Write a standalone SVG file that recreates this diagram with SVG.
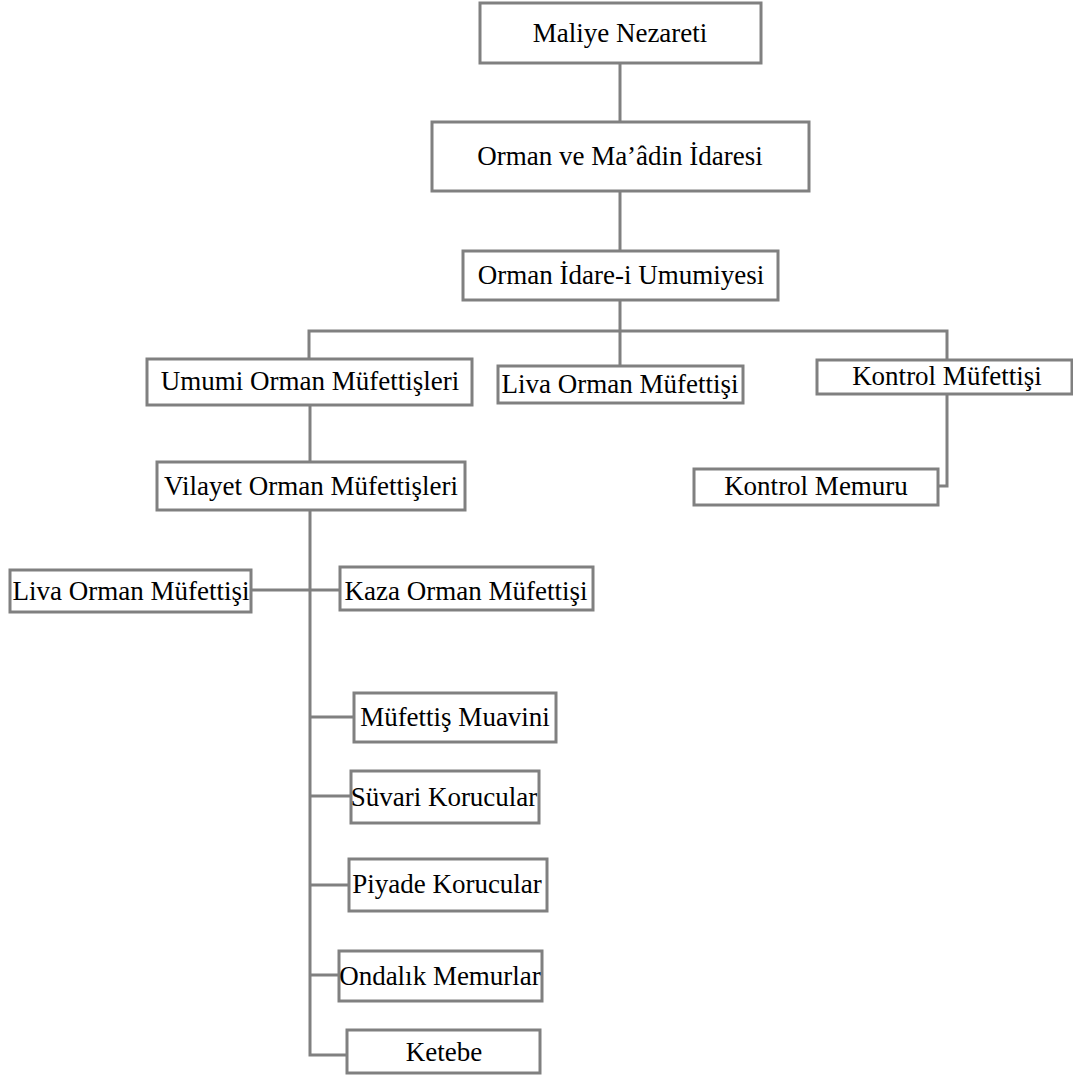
<svg xmlns="http://www.w3.org/2000/svg" width="1073" height="1079" viewBox="0 0 1073 1079">
<style>
.box{fill:#fff;stroke:#808080;stroke-width:3}
.lbl{font-family:"Liberation Serif","Times New Roman",serif;font-size:27px;fill:#000;text-anchor:middle}
.conn{fill:none;stroke:#808080;stroke-width:3}
</style>
<rect width="1073" height="1079" fill="#fff"/>
<g id="connectors">
<path class="conn" d="M620 63V122"/>
<path class="conn" d="M620 191V251"/>
<path class="conn" d="M620 300V331M309 359V331H947V360M620 331V366"/>
<path class="conn" d="M947 394V486H938"/>
<path class="conn" d="M310 405V462"/>
<path class="conn" d="M310 510V1055H347"/>
<path class="conn" d="M251 590H340"/>
<path class="conn" d="M310 717H354M310 796H351M310 885H349M310 975H339"/>
</g>
<g id="n1"><rect class="box" x="480" y="3" width="281" height="60"/><text class="lbl" x="620" y="42">Maliye Nezareti</text></g>
<g id="n2"><rect class="box" x="432" y="122" width="377" height="69"/><text class="lbl" x="620" y="165">Orman ve Ma’âdin İdaresi</text></g>
<g id="n3"><rect class="box" x="463" y="251" width="315" height="49"/><text class="lbl" x="621" y="284">Orman İdare-i Umumiyesi</text></g>
<g id="n4"><rect class="box" x="147" y="359" width="325" height="46"/><text class="lbl" x="310" y="390">Umumi Orman Müfettişleri</text></g>
<g id="n5"><rect class="box" x="498" y="366" width="245" height="37"/><text class="lbl" x="620" y="393">Liva Orman Müfettişi</text></g>
<g id="n6"><rect class="box" x="817" y="360" width="255" height="34"/><text class="lbl" x="947" y="385">Kontrol Müfettişi</text></g>
<g id="n7"><rect class="box" x="694" y="469" width="244" height="36"/><text class="lbl" x="816" y="495">Kontrol Memuru</text></g>
<g id="n8"><rect class="box" x="157" y="462" width="308" height="48"/><text class="lbl" x="311" y="495">Vilayet Orman Müfettişleri</text></g>
<g id="n9"><rect class="box" x="10" y="570" width="241" height="42"/><text class="lbl" x="131" y="600">Liva Orman Müfettişi</text></g>
<g id="n10"><rect class="box" x="340" y="567" width="253" height="43"/><text class="lbl" x="466" y="600">Kaza Orman Müfettişi</text></g>
<g id="n11"><rect class="box" x="354" y="693" width="202" height="49"/><text class="lbl" x="455" y="726">Müfettiş Muavini</text></g>
<g id="n12"><rect class="box" x="351" y="771" width="188" height="52"/><text class="lbl" x="444" y="806">Süvari Korucular</text></g>
<g id="n13"><rect class="box" x="349" y="859" width="198" height="52"/><text class="lbl" x="447" y="893">Piyade Korucular</text></g>
<g id="n14"><rect class="box" x="339" y="951" width="203" height="50"/><text class="lbl" x="440" y="985">Ondalık Memurlar</text></g>
<g id="n15"><rect class="box" x="347" y="1030" width="193" height="43"/><text class="lbl" x="444" y="1061">Ketebe</text></g>
</svg>
